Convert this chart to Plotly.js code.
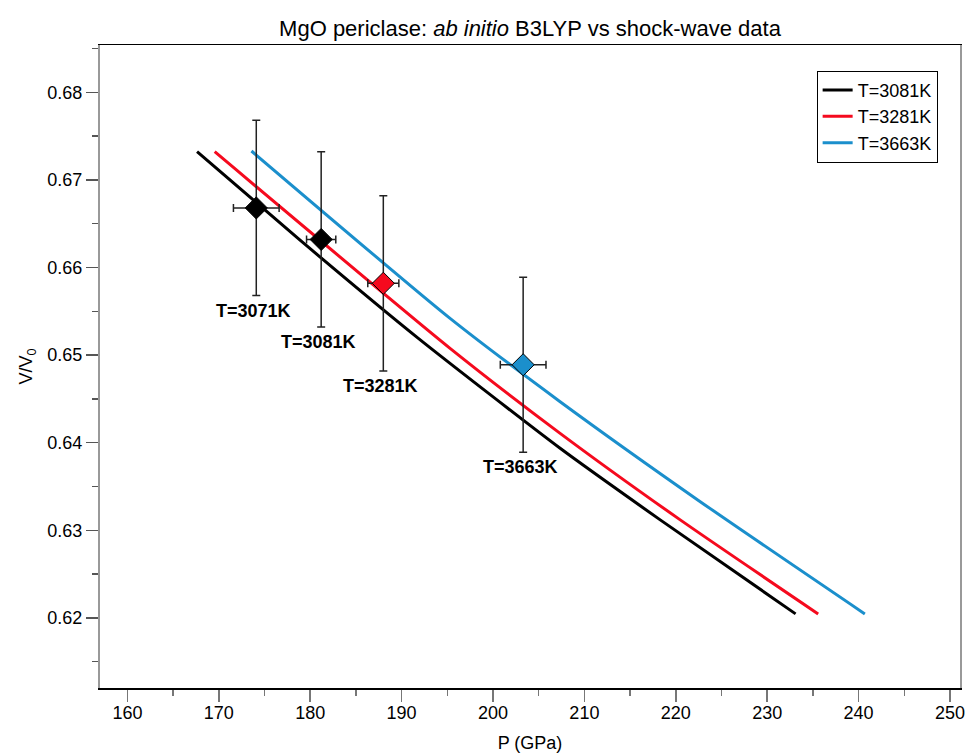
<!DOCTYPE html>
<html>
<head>
<meta charset="utf-8">
<script src="https://cdn.plot.ly/plotly-3.0.1.min.js"></script>
<style>html,body{margin:0;padding:0;background:#fff;}#chart{width:979px;height:753px;}</style>
</head>
<body>
<div id="chart"></div>
<script>
// B3LYP isotherms (P in GPa, V/V0)
const P_3081 = [167.62, 178.86, 191.80, 207.31, 218.26, 233.11];
const V_3081 = [0.67322, 0.66315, 0.65194, 0.63939, 0.63122, 0.62046];
const P_3281 = [169.55, 195.27, 207.31, 220.45, 235.58];
const V_3281 = [0.67322, 0.65080, 0.64110, 0.63122, 0.62046];
const P_3663 = [173.57, 195.27, 207.31, 222.64, 240.69];
const V_3663 = [0.67330, 0.65422, 0.64471, 0.63330, 0.62046];
const curveNames = ['T=3081K', 'T=3281K', 'T=3663K'];
const curveColors = ['#000000', '#f50a1e', '#1b8fcc'];

// shock-wave data
const shockP = [174.1, 181.2, 188.0, 203.3];
const shockV = [0.6668, 0.6632, 0.6582, 0.6489];
const shockErrP = [2.5, 1.6, 1.7, 2.5];
const shockErrV = [0.010, 0.010, 0.010, 0.010];
const shockLabels = ['T=3071K', 'T=3081K', 'T=3281K', 'T=3663K'];
const shockColors = ['#000000', '#000000', '#f50a1e', '#1b8fcc'];

const font = 'Liberation Sans, Arial, Helvetica, sans-serif';

const curves = [[P_3081, V_3081], [P_3281, V_3281], [P_3663, V_3663]];
const traces = curves.map((c, i) => ({
  x: c[0], y: c[1], type: 'scatter', mode: 'lines', name: curveNames[i],
  line: {color: curveColors[i], width: 3, shape: 'spline', smoothing: 0.6}
}));
traces.push({
  x: shockP, y: shockV, type: 'scatter', mode: 'markers', showlegend: false,
  marker: {symbol: 'diamond', size: 17, color: shockColors, line: {color: '#000', width: 1}},
  error_x: {type: 'data', array: shockErrP, visible: true, color: '#222', thickness: 1.5, width: 4},
  error_y: {type: 'data', array: shockErrV, visible: true, color: '#222', thickness: 1.5, width: 4}
});

const annotations = shockLabels.map((t, i) => ({
  x: shockP[i], y: shockV[i] - shockErrV[i], xref: 'x', yref: 'y',
  text: '<b>' + t + '</b>', showarrow: false, xanchor: 'center', yanchor: 'top',
  xshift: -3, yshift: -3, font: {family: font, size: 18, color: '#000'}
}));

const layout = {
  width: 979, height: 753,
  margin: {l: 100, r: 19, t: 45, b: 65},
  paper_bgcolor: '#fff', plot_bgcolor: '#fff',
  font: {family: font, size: 18, color: '#000'},
  title: {text: 'MgO periclase: <i>ab initio</i> B3LYP vs shock-wave data',
    font: {family: font, size: 22, color: '#000'},
    x: 0.5, xref: 'paper', xanchor: 'center', y: 1 - 28/753, yref: 'container', yanchor: 'middle'},
  xaxis: {
    range: [157.0, 251.1], showgrid: false, zeroline: false,
    showline: true, linecolor: '#000', linewidth: 1.5, mirror: true,
    ticks: 'outside', ticklen: 12, tickwidth: 1.5, tickcolor: '#777',
    tick0: 160, dtick: 10, tickfont: {family: font, size: 18}, ticklabelstandoff: -4,
    minor: {ticks: 'outside', ticklen: 6, tickwidth: 1.5, tickcolor: '#777', dtick: 5},
    title: {text: 'P (GPa)', font: {family: font, size: 18}, standoff: 14}
  },
  yaxis: {
    range: [0.6120, 0.6854], showgrid: false, zeroline: false,
    showline: true, linecolor: '#999', linewidth: 2, mirror: true,
    ticks: 'outside', ticklen: 12, tickwidth: 1.5, tickcolor: '#555',
    tick0: 0.62, dtick: 0.01, tickformat: '.2f', tickfont: {family: font, size: 18},
    minor: {ticks: 'outside', ticklen: 6, tickwidth: 1.5, tickcolor: '#555', dtick: 0.005},
    title: {text: 'V/V<sub>0</sub>', font: {family: font, size: 18}, standoff: 10}
  },
  legend: {x: 0.974, y: 0.960, xanchor: 'right', yanchor: 'top',
    bgcolor: '#fff', bordercolor: '#000', borderwidth: 1,
    font: {family: font, size: 18, color: '#000'}, tracegroupgap: 0},
  annotations: annotations,
  showlegend: true
};

Plotly.newPlot('chart', traces, layout, {displayModeBar: false, staticPlot: true});
</script>
</body>
</html>
